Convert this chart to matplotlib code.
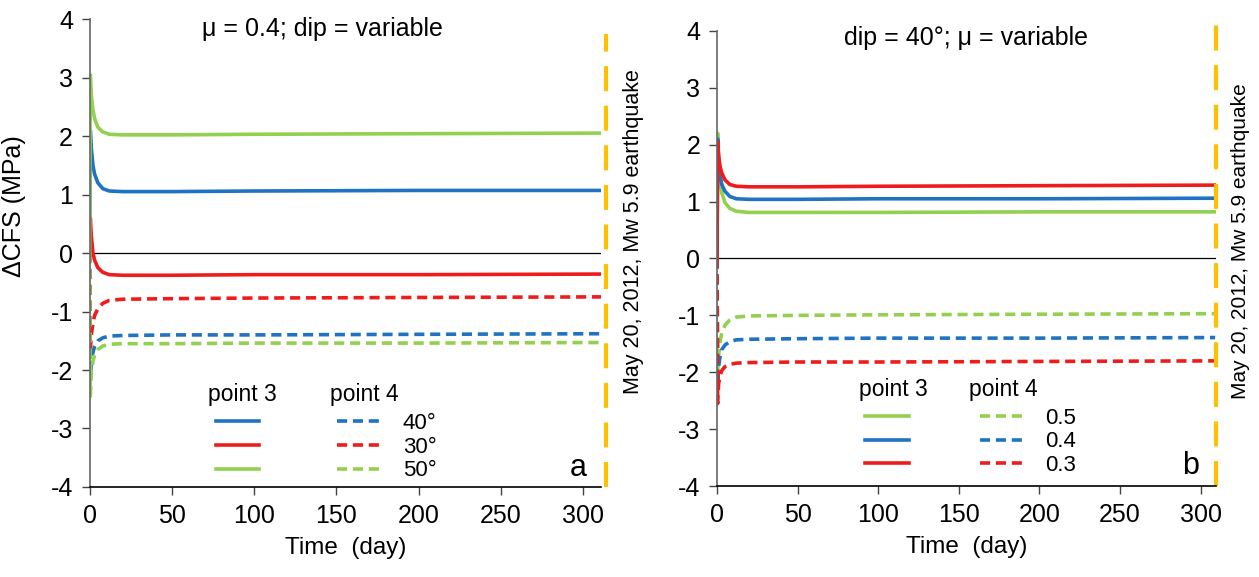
import matplotlib.pyplot as plt
from matplotlib.lines import Line2D

plt.rcParams['font.family'] = ['Liberation Sans', 'DejaVu Sans']
plt.rcParams['axes.unicode_minus'] = False

BLUE = '#1f73c2'
RED = '#ee1c1c'
GREEN = '#92d050'
ORANGE = '#ffc000'

# time axis (days after the first shock)
t_a = [0, 0.4, 1, 2, 3, 5, 8, 12, 20, 50, 100, 200, 311]
t_b = [0, 0.4, 1, 2, 3, 5, 8, 12, 20, 50, 100, 200, 309]

# panel a: mu = 0.4, dip varies
a_p3_40 = [0, 2.10, 1.80, 1.50, 1.35, 1.20, 1.10, 1.06, 1.05, 1.05, 1.06, 1.07, 1.07]
a_p3_30 = [0, 0.60, 0.30, 0.00, -0.12, -0.25, -0.33, -0.37, -0.38, -0.38, -0.37, -0.37, -0.36]
a_p3_50 = [0, 3.05, 2.70, 2.45, 2.30, 2.15, 2.07, 2.03, 2.02, 2.02, 2.03, 2.04, 2.05]
a_p4_40 = [0, -2.10, -1.85, -1.70, -1.60, -1.50, -1.45, -1.42, -1.41, -1.40, -1.40, -1.39, -1.38]
a_p4_30 = [0, -1.65, -1.40, -1.20, -1.07, -0.95, -0.86, -0.81, -0.79, -0.78, -0.77, -0.76, -0.75]
a_p4_50 = [0, -2.45, -2.05, -1.85, -1.75, -1.65, -1.59, -1.56, -1.55, -1.55, -1.54, -1.54, -1.53]

# panel b: dip = 40 deg, mu varies
b_p3_05 = [0, 2.20, 1.70, 1.35, 1.15, 0.98, 0.88, 0.83, 0.81, 0.81, 0.81, 0.82, 0.82]
b_p3_04 = [0, 2.10, 1.75, 1.45, 1.30, 1.18, 1.09, 1.05, 1.04, 1.04, 1.05, 1.05, 1.06]
b_p3_03 = [0, 2.05, 1.80, 1.60, 1.50, 1.38, 1.30, 1.27, 1.26, 1.26, 1.27, 1.28, 1.29]
b_p4_05 = [0, -2.00, -1.70, -1.45, -1.30, -1.17, -1.08, -1.03, -1.01, -1.00, -0.99, -0.98, -0.97]
b_p4_04 = [0, -2.20, -1.90, -1.70, -1.60, -1.52, -1.46, -1.43, -1.42, -1.41, -1.40, -1.40, -1.39]
b_p4_03 = [0, -2.55, -2.20, -2.05, -1.97, -1.90, -1.86, -1.84, -1.83, -1.82, -1.82, -1.81, -1.80]

labels_a = ['40°', '30°', '50°']
labels_b = ['0.5', '0.4', '0.3']

LW = 2.6
DASH = (2.8, 1.6)

fig = plt.figure(figsize=(12.59, 5.77), dpi=100)
ax1 = fig.add_axes([0.0712, 0.156, 0.4062, 0.811])
ax2 = fig.add_axes([0.5695, 0.1577, 0.3963, 0.7886])


def style_axes(ax, xmax):
    ax.set_xlim(0, xmax)
    ax.set_ylim(-4, 4)
    ax.set_xticks([0, 50, 100, 150, 200, 250, 300])
    ax.set_yticks(range(-4, 5))
    for s in ['top', 'right']:
        ax.spines[s].set_visible(False)
    ax.spines['left'].set_color('#666666')
    ax.spines['bottom'].set_color('black')
    ax.spines['left'].set_linewidth(1.2)
    ax.spines['bottom'].set_linewidth(1.2)
    ax.tick_params(axis='both', direction='out', length=6, width=1, color='#444444',
                   labelsize=18, pad=6)
    ax.axhline(0, color='black', lw=0.9, zorder=1)
    ax.set_xlabel('Time  (day)', fontsize=17.5, labelpad=7)


def draw_legend(ax, colors, labels, x0, y0, colspace):
    handles = []
    for c in colors:
        handles.append(Line2D([], [], color=c, lw=LW))
    for c in colors:
        handles.append(Line2D([], [], color=c, lw=LW, ls=(0, DASH)))
    leg = ax.legend(handles, [''] * 3 + labels, ncol=2, loc='lower left',
                    bbox_to_anchor=(x0, y0), frameon=False, fontsize=16,
                    handlelength=1.95, handletextpad=1.0, columnspacing=colspace,
                    labelspacing=0.12, borderpad=0, borderaxespad=0)
    return leg


# panel a
style_axes(ax1, 311)
ax1.plot(t_a, a_p3_40, color=BLUE, lw=LW)
ax1.plot(t_a, a_p3_30, color=RED, lw=LW)
ax1.plot(t_a, a_p4_40, color=BLUE, lw=LW, ls=(0, DASH))
ax1.plot(t_a, a_p4_30, color=RED, lw=LW, ls=(0, DASH))
ax1.plot(t_a, a_p4_50, color=GREEN, lw=LW, ls=(0, DASH))
ax1.plot(t_a, a_p3_50, color=GREEN, lw=LW)
ax1.plot([314, 314], [-4, 3.75], color=ORANGE, lw=3, ls=(0, (6, 3.5)), clip_on=False)
ax1.set_ylabel('ΔCFS (MPa)', fontsize=18)
ax1.yaxis.set_label_coords(-0.125, 0.6)
ax1.text(0.455, 0.978, 'μ = 0.4; dip = variable', transform=ax1.transAxes,
         fontsize=18, ha='center', va='center')
ax1.text(0.955, 0.04, 'a', transform=ax1.transAxes, fontsize=22, ha='center', va='center')
draw_legend(ax1, [BLUE, RED, GREEN], labels_a, 0.247, 0.012, 2.5)
ax1.text(0.298, 0.197, 'point 3', transform=ax1.transAxes, fontsize=16.5, ha='center', va='center')
ax1.text(0.538, 0.197, 'point 4', transform=ax1.transAxes, fontsize=16.5, ha='center', va='center')
fig.text(633 / 1259, 1 - 232 / 577, 'May 20, 2012, Mw 5.9 earthquake', rotation=90,
         fontsize=15.5, ha='center', va='center')

# panel b
style_axes(ax2, 309.5)
ax2.plot(t_b, b_p3_05, color=GREEN, lw=LW)
ax2.plot(t_b, b_p3_04, color=BLUE, lw=LW)
ax2.plot(t_b, b_p4_05, color=GREEN, lw=LW, ls=(0, DASH))
ax2.plot(t_b, b_p4_04, color=BLUE, lw=LW, ls=(0, DASH))
ax2.plot(t_b, b_p4_03, color=RED, lw=LW, ls=(0, DASH))
ax2.plot(t_b, b_p3_03, color=RED, lw=LW)
ax2.plot([309.5, 309.5], [-4, 4.1], color=ORANGE, lw=3, ls=(0, (6, 3.5)), clip_on=False)
ax2.text(0.5, 0.985, 'dip = 40°; μ = variable', transform=ax2.transAxes,
         fontsize=18, ha='center', va='center')
ax2.text(0.95, 0.045, 'b', transform=ax2.transAxes, fontsize=22, ha='center', va='center')
draw_legend(ax2, [GREEN, BLUE, RED], labels_b, 0.297, 0.022, 2.2)
ax2.text(0.353, 0.211, 'point 3', transform=ax2.transAxes, fontsize=16.5, ha='center', va='center')
ax2.text(0.573, 0.211, 'point 4', transform=ax2.transAxes, fontsize=16.5, ha='center', va='center')
fig.text(1240 / 1259, 1 - 241 / 577, 'May 20, 2012, Mw 5.9 earthquake', rotation=90,
         fontsize=15, ha='center', va='center')

fig.savefig('out.png', dpi=100)
